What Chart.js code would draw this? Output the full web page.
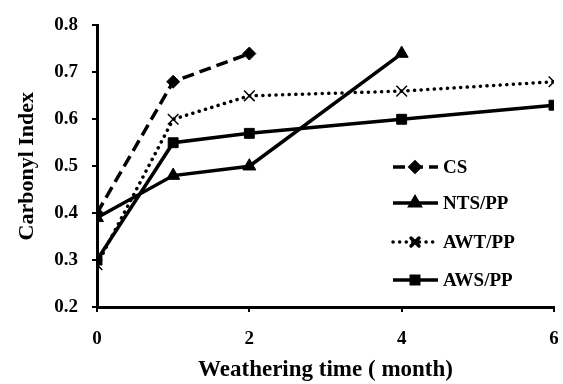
<!DOCTYPE html>
<html>
<head>
<meta charset="utf-8">
<script src="https://cdn.jsdelivr.net/npm/chart.js@4"></script>
<style>
  html, body { margin: 0; padding: 0; background: #fff; }
  #wrap { width: 563px; height: 384px; }
</style>
</head>
<body>
<div id="wrap"><canvas id="ciChart" width="563" height="384"></canvas></div>
<script>
// months of weathering
const csMonths = [0, 1, 2];
const ntsMonths = [0, 1, 2, 4];
const awtMonths = [0, 1, 2, 4, 6];
const awsMonths = [0, 1, 2, 4, 6];

// carbonyl index values
const csValues = [0.40, 0.68, 0.74];
const ntsValues = [0.39, 0.48, 0.50, 0.74];
const awtValues = [0.29, 0.60, 0.65, 0.66, 0.68];
const awsValues = [0.30, 0.55, 0.57, 0.60, 0.63];

const seriesNames = ["CS", "NTS/PP", "AWT/PP", "AWS/PP"];
const xTicks = [0, 2, 4, 6];
const yTicks = [0.2, 0.3, 0.4, 0.5, 0.6, 0.7, 0.8];

const toPoints = (xs, ys) => xs.map((x, i) => ({ x: x, y: ys[i] }));

const serif = "'Liberation Serif', 'DejaVu Serif', serif";

// draws the legend inside the plot, like the original figure
const insideLegend = {
  id: "insideLegend",
  afterDraw(chart) {
    const ctx = chart.ctx;
    const area = chart.chartArea;
    const x0 = area.left + 296;
    const rows = [167, 203, 242, 280];
    chart.data.datasets.forEach((ds, i) => {
      const y = rows[i];
      ctx.save();
      ctx.strokeStyle = ds.borderColor;
      ctx.lineWidth = ds.borderWidth;
      ctx.lineCap = ds.borderCapStyle || "butt";
      ctx.setLineDash(ds.borderDash || []);
      ctx.beginPath();
      ctx.moveTo(x0, y);
      ctx.lineTo(x0 + 45, y);
      ctx.stroke();
      ctx.setLineDash([]);
      Chart.helpers.drawPoint(ctx, {
        pointStyle: ds.pointStyle,
        radius: ds.pointRadius * 0.75,
        borderWidth: ds.pointBorderWidth || 1
      }, x0 + 22, y);
      ctx.fillStyle = "#000";
      ctx.font = "bold 19px " + serif;
      ctx.textBaseline = "middle";
      ctx.fillText(ds.label, x0 + 50, y + 1);
      ctx.restore();
    });
  }
};

new Chart(document.getElementById("ciChart"), {
  type: "line",
  data: {
    datasets: [
      {
        label: seriesNames[0],
        data: toPoints(csMonths, csValues),
        borderColor: "#000",
        backgroundColor: "#000",
        borderWidth: 3.5,
        borderDash: [12, 6],
        pointStyle: "rectRot",
        pointRadius: 6.5,
        pointBorderWidth: 1
      },
      {
        label: seriesNames[1],
        data: toPoints(ntsMonths, ntsValues),
        borderColor: "#000",
        backgroundColor: "#000",
        borderWidth: 3.5,
        pointStyle: "triangle",
        pointRadius: 7.5,
        pointBorderWidth: 1
      },
      {
        label: seriesNames[2],
        data: toPoints(awtMonths, awtValues),
        borderColor: "#000",
        backgroundColor: "#000",
        borderWidth: 3.5,
        borderDash: [0.1, 6.5],
        borderCapStyle: "round",
        pointStyle: "crossRot",
        pointRadius: 7.5,
        pointBorderWidth: 1.5
      },
      {
        label: seriesNames[3],
        data: toPoints(awsMonths, awsValues),
        borderColor: "#000",
        backgroundColor: "#000",
        borderWidth: 3.5,
        pointStyle: "rect",
        pointRadius: 7,
        pointBorderWidth: 1
      }
    ]
  },
  options: {
    responsive: false,
    animation: false,
    layout: { padding: { top: 25, right: 0, left: 0, bottom: 0 } },
    plugins: {
      legend: { display: false },
      tooltip: { enabled: false }
    },
    scales: {
      x: {
        type: "linear",
        min: 0,
        max: 6,
        afterBuildTicks: s => { s.ticks = xTicks.map(v => ({ value: v })); },
        afterFit: s => { s.height = 77; s.paddingRight = 4; s.paddingLeft = 0; },
        border: { color: "#000", width: 3 },
        grid: { drawOnChartArea: false, drawTicks: true, tickLength: 5, color: "#000", lineWidth: 2 },
        ticks: { color: "#000", font: { family: serif, size: 19, weight: "bold" }, padding: 16 },
        title: {
          display: true,
          text: "Weathering time ( month)",
          color: "#000",
          font: { family: serif, size: 23, weight: "bold" },
          padding: { top: 4, bottom: 0 }
        }
      },
      y: {
        min: 0.2,
        max: 0.8,
        afterBuildTicks: s => { s.ticks = yTicks.map(v => ({ value: v })); },
        afterFit: s => { s.width = 97; },
        border: { color: "#000", width: 3 },
        grid: { drawOnChartArea: false, drawTicks: true, tickLength: 5, color: "#000", lineWidth: 2 },
        ticks: {
          color: "#000",
          font: { family: serif, size: 19, weight: "bold" },
          padding: 14,
          callback: v => v.toFixed(1)
        },
        title: {
          display: true,
          text: "Carbonyl Index",
          color: "#000",
          font: { family: serif, size: 22, weight: "bold" },
          padding: { top: 14, bottom: 4 }
        }
      }
    }
  },
  plugins: [insideLegend]
});
</script>
</body>
</html>
